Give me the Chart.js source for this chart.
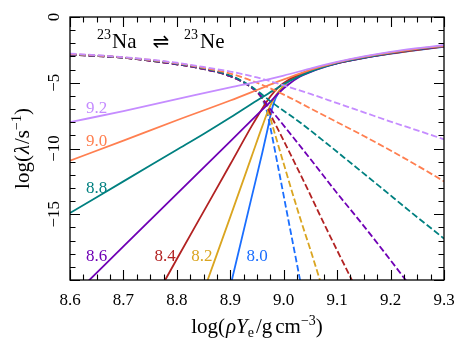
<!DOCTYPE html>
<html><head><meta charset="utf-8">
<script src="https://cdn.jsdelivr.net/npm/chart.js@4/dist/chart.umd.min.js"></script>
<style>html,body{margin:0;padding:0;background:#fff}#wrap{width:468px;height:351px;position:relative}</style>
</head><body><div id="wrap"><canvas id="c"></canvas></div>
<script>
// ---- data (log T labels, x = log(rho Ye), y = log lambda) ----
const temps = ['9.2','9.0','8.8','8.6','8.4','8.2','8.0'];
const colors = ['#c58cff','#ff7f50','#008080','#6f00b5','#b22222','#daa520','#1a6eff'];
const xTicks = [8.6,8.7,8.8,8.9,9.0,9.1,9.2,9.3];
const yTicks = [0,-5,-10,-15];

// electron capture 23Na -> 23Ne (solid)
const xEc92 = [8.6,8.7,8.8,8.9,8.95,9.0,9.05,9.1,9.15,9.2,9.25,9.3];
const yEc92 = [-8.0,-7.15,-6.25,-5.35,-4.93,-4.45,-3.92,-3.42,-3.0,-2.65,-2.37,-2.13];
const xEc90 = [8.6,8.7,8.8,8.9,8.95,8.99,9.03,9.07,9.1,9.15,9.2,9.25,9.3];
const yEc90 = [-10.93,-9.4,-7.85,-6.35,-5.55,-4.9,-4.3,-3.78,-3.45,-3.03,-2.7,-2.42,-2.2];
const xEc88 = [8.6,8.7,8.8,8.85,8.9,8.95,8.98,9.0,9.03,9.06,9.1,9.15,9.2,9.25,9.3];
const yEc88 = [-14.9,-12.5,-10.1,-8.9,-7.65,-6.35,-5.6,-5.1,-4.5,-4.0,-3.5,-3.08,-2.74,-2.45,-2.22];
const xEc86 = [8.63,8.7,8.8,8.9,8.94,8.96,8.975,8.99,9.01,9.03,9.06,9.1,9.15,9.2,9.25,9.3];
const yEc86 = [-20.25,-17.45,-13.45,-9.45,-7.85,-7.05,-6.45,-5.8,-5.1,-4.55,-4.02,-3.52,-3.1,-2.76,-2.47,-2.23];
const xEc84 = [8.77,8.8,8.85,8.9,8.94,8.96,8.975,8.99,9.01,9.04,9.07,9.1,9.15,9.2,9.25,9.3];
const yEc84 = [-20.6,-18.4,-14.8,-11.2,-8.3,-6.95,-6.05,-5.35,-4.75,-4.2,-3.82,-3.5,-3.1,-2.77,-2.49,-2.24];
const xEc82 = [8.855,8.9,8.94,8.96,8.972,8.983,9.0,9.02,9.05,9.1,9.15,9.2,9.25,9.3];
const yEc82 = [-20.3,-15.2,-10.6,-8.3,-7.0,-6.1,-5.2,-4.58,-4.03,-3.5,-3.1,-2.78,-2.5,-2.25];
const xEc80 = [8.9,8.94,8.96,8.97,8.978,8.985,9.0,9.02,9.05,9.1,9.15,9.2,9.25,9.3];
const yEc80 = [-20.5,-13.7,-10.3,-8.5,-7.0,-6.15,-5.25,-4.6,-4.05,-3.52,-3.12,-2.79,-2.51,-2.26];

// beta decay 23Ne -> 23Na (dashed)
const xBd92 = [8.6,8.7,8.8,8.85,8.9,8.95,9.0,9.05,9.1,9.15,9.2,9.25,9.3];
const yBd92 = [-2.78,-3.05,-3.48,-3.8,-4.15,-4.6,-5.2,-5.85,-6.55,-7.25,-7.95,-8.62,-9.3];
const xBd90 = [8.6,8.7,8.8,8.85,8.9,8.95,9.0,9.05,9.1,9.15,9.2,9.25,9.3];
const yBd90 = [-2.82,-3.07,-3.52,-3.87,-4.3,-5.0,-5.9,-6.95,-8.0,-9.05,-10.15,-11.3,-12.5];
const xBd88 = [8.6,8.7,8.8,8.85,8.9,8.93,8.95,8.98,9.03,9.08,9.13,9.18,9.24,9.3];
const yBd88 = [-2.84,-3.09,-3.56,-3.91,-4.45,-5.05,-5.6,-6.56,-8.0,-9.6,-11.25,-12.9,-14.9,-16.85];
const xBd86 = [8.6,8.7,8.8,8.85,8.9,8.93,8.95,8.96,8.97,8.993,9.05,9.1,9.15,9.2,9.23];
const yBd86 = [-2.85,-3.1,-3.6,-3.95,-4.5,-5.1,-5.7,-6.15,-6.75,-7.9,-10.8,-13.4,-15.9,-18.5,-20.1];
const xBd84 = [8.6,8.7,8.8,8.85,8.9,8.93,8.95,8.96,8.97,8.98,8.993,9.04,9.08,9.13];
const yBd84 = [-2.85,-3.1,-3.6,-3.95,-4.5,-5.1,-5.7,-6.2,-6.9,-7.8,-8.84,-12.7,-16.1,-20.2];
const xBd82 = [8.6,8.7,8.8,8.85,8.9,8.93,8.95,8.96,8.97,8.98,8.993,9.03,9.05,9.07];
const yBd82 = [-2.85,-3.1,-3.6,-3.95,-4.5,-5.1,-5.7,-6.2,-7.0,-8.4,-10.2,-15.2,-17.7,-20.3];
const xBd80 = [8.6,8.7,8.8,8.85,8.9,8.93,8.95,8.96,8.968,8.975,8.99,9.01,9.032];
const yBd80 = [-2.85,-3.1,-3.6,-3.95,-4.5,-5.1,-5.7,-6.25,-7.1,-8.4,-11.5,-15.7,-20.3];

const ecX = [xEc92,xEc90,xEc88,xEc86,xEc84,xEc82,xEc80];
const ecY = [yEc92,yEc90,yEc88,yEc86,yEc84,yEc82,yEc80];
const bdX = [xBd92,xBd90,xBd88,xBd86,xBd84,xBd82,xBd80];
const bdY = [yBd92,yBd90,yBd88,yBd86,yBd84,yBd82,yBd80];

// ---- label placement (layout, not data) ----
const labelPos = [
  {x:8.65,y:-6.95},{x:8.65,y:-9.5},{x:8.65,y:-13.05},{x:8.65,y:-18.2},
  {x:8.778,y:-18.2},{x:8.847,y:-18.2},{x:8.95,y:-18.2}
];

const pts = (xs,ys)=>xs.map((v,i)=>({x:v,y:ys[i]}));
const datasets = [];
temps.forEach((t,i)=>{
  datasets.push({label:'ec '+t,data:pts(ecX[i],ecY[i]),borderColor:colors[i],borderWidth:1.8,
    pointRadius:0,fill:false,cubicInterpolationMode:'monotone',clip:0});
  datasets.push({label:'beta '+t,data:pts(bdX[i],bdY[i]),borderColor:colors[i],borderWidth:1.8,
    borderDash:[6.5,2.8],pointRadius:0,fill:false,cubicInterpolationMode:'monotone',clip:0});
});

const SERIF = '"Liberation Serif", "DejaVu Serif", serif';

function drawParts(ctx, parts, x, y){
  let cx = x;
  parts.forEach(p=>{
    ctx.font = (p[3]?'italic ':'') + p[1]+'px '+SERIF;
    ctx.fillText(p[0], cx, y + p[2]);
    cx += ctx.measureText(p[0]).width + (p[4]||0);
  });
  return cx - x;
}
function partsWidth(ctx, parts){
  let w=0; parts.forEach(p=>{ctx.font=(p[3]?'italic ':'')+p[1]+'px '+SERIF; w+=ctx.measureText(p[0]).width+(p[4]||0);}); return w;
}

const deco = {
  id:'deco',
  afterDatasetsDraw(chart){
    const {ctx, chartArea:a, scales:{x,y}} = chart;
    ctx.save();
    // curve labels
    ctx.textAlign='center'; ctx.textBaseline='middle';
    ctx.font = '17px '+SERIF;
    temps.forEach((t,i)=>{
      ctx.fillStyle = colors[i];
      ctx.fillText(t, x.getPixelForValue(labelPos[i].x), y.getPixelForValue(labelPos[i].y));
    });
    // frame
    ctx.strokeStyle='#000'; ctx.lineWidth=1.3;
    ctx.strokeRect(a.left, a.top, a.right-a.left, a.bottom-a.top);
    // ticks (inward, all sides)
    ctx.lineWidth=1.1;
    ctx.beginPath();
    for(let k=0;k<=28;k++){
      const v = x.min + k*(x.max-x.min)/28;
      const px = Math.round(x.getPixelForValue(v))+0.5;
      const L = (k%4===0)?10:5.5;
      ctx.moveTo(px,a.bottom); ctx.lineTo(px,a.bottom-L);
      ctx.moveTo(px,a.top); ctx.lineTo(px,a.top+L);
    }
    for(let k=0;k<=20;k++){
      const v = y.min + k;
      const py = Math.round(y.getPixelForValue(v))+0.5;
      const L = (k%5===0)?10:5.5;
      ctx.moveTo(a.left,py); ctx.lineTo(a.left+L,py);
      ctx.moveTo(a.right,py); ctx.lineTo(a.right-L,py);
    }
    ctx.stroke();
    // y tick labels (rotated)
    ctx.fillStyle='#000';
    ctx.font='17px '+SERIF;
    yTicks.forEach(v=>{
      const py = y.getPixelForValue(v);
      ctx.save(); ctx.translate(a.left-15, py); ctx.rotate(-Math.PI/2);
      ctx.textAlign='center'; ctx.textBaseline='middle';
      ctx.fillText(v===0?'0':'\u2212'+Math.abs(v), 0, 0);
      ctx.restore();
    });
    // x axis title
    ctx.textAlign='left'; ctx.textBaseline='alphabetic';
    const xt = [['log(',21,0,false,1],['\u03C1Y',21,0,true,0],['e',14,4,false,2],['/g',21,0,false,3],['cm',21,0,false,0],['\u22123',14,-8],[')',21,0]];
    const wx = partsWidth(ctx,xt);
    drawParts(ctx, xt, (a.left+a.right)/2 - wx/2, 333);
    // y axis title
    const yt = [['log(',21,0,false,1],['\u03BB',21,0,true,1],['/s',21,0],['\u22121',14,-8],[')',21,0]];
    const wy = partsWidth(ctx,yt);
    ctx.save(); ctx.translate(29,(a.top+a.bottom)/2); ctx.rotate(-Math.PI/2);
    drawParts(ctx, yt, -wy/2, 0);
    ctx.restore();
    // reaction label
    ctx.font='14px '+SERIF; ctx.fillText('23', 97, 39);
    ctx.font='21px '+SERIF; ctx.fillText('Na', 112, 48);
    ctx.font='20px "DejaVu Sans"'; ctx.textAlign='center'; ctx.fillText('\u21CC', 161, 48);
    ctx.textAlign='left';
    ctx.font='14px '+SERIF; ctx.fillText('23', 184, 39);
    ctx.font='21px '+SERIF; ctx.fillText('Ne', 200, 48);
    ctx.restore();
  }
};

new Chart(document.getElementById('c'), {
  type:'line',
  data:{datasets},
  options:{
    responsive:true, maintainAspectRatio:false, animation:false,
    layout:{padding:{left:0,right:24,top:17,bottom:0}},
    plugins:{legend:{display:false},tooltip:{enabled:false}},
    scales:{
      x:{type:'linear',min:8.6,max:9.3,
        afterBuildTicks:s=>{s.ticks=xTicks.map(v=>({value:v}));},
        afterFit:s=>{s.height=71;},
        grid:{display:false,drawTicks:false},border:{display:false},
        ticks:{padding:10,color:'#000',font:{family:SERIF,size:17},callback:v=>Number(v).toFixed(1),maxRotation:0}},
      y:{type:'linear',min:-20,max:0,
        afterBuildTicks:s=>{s.ticks=yTicks.map(v=>({value:v}));},
        afterFit:s=>{s.width=70;},
        grid:{display:false,drawTicks:false},border:{display:false},
        ticks:{display:false}}
    }
  },
  plugins:[deco]
});
</script></body></html>
